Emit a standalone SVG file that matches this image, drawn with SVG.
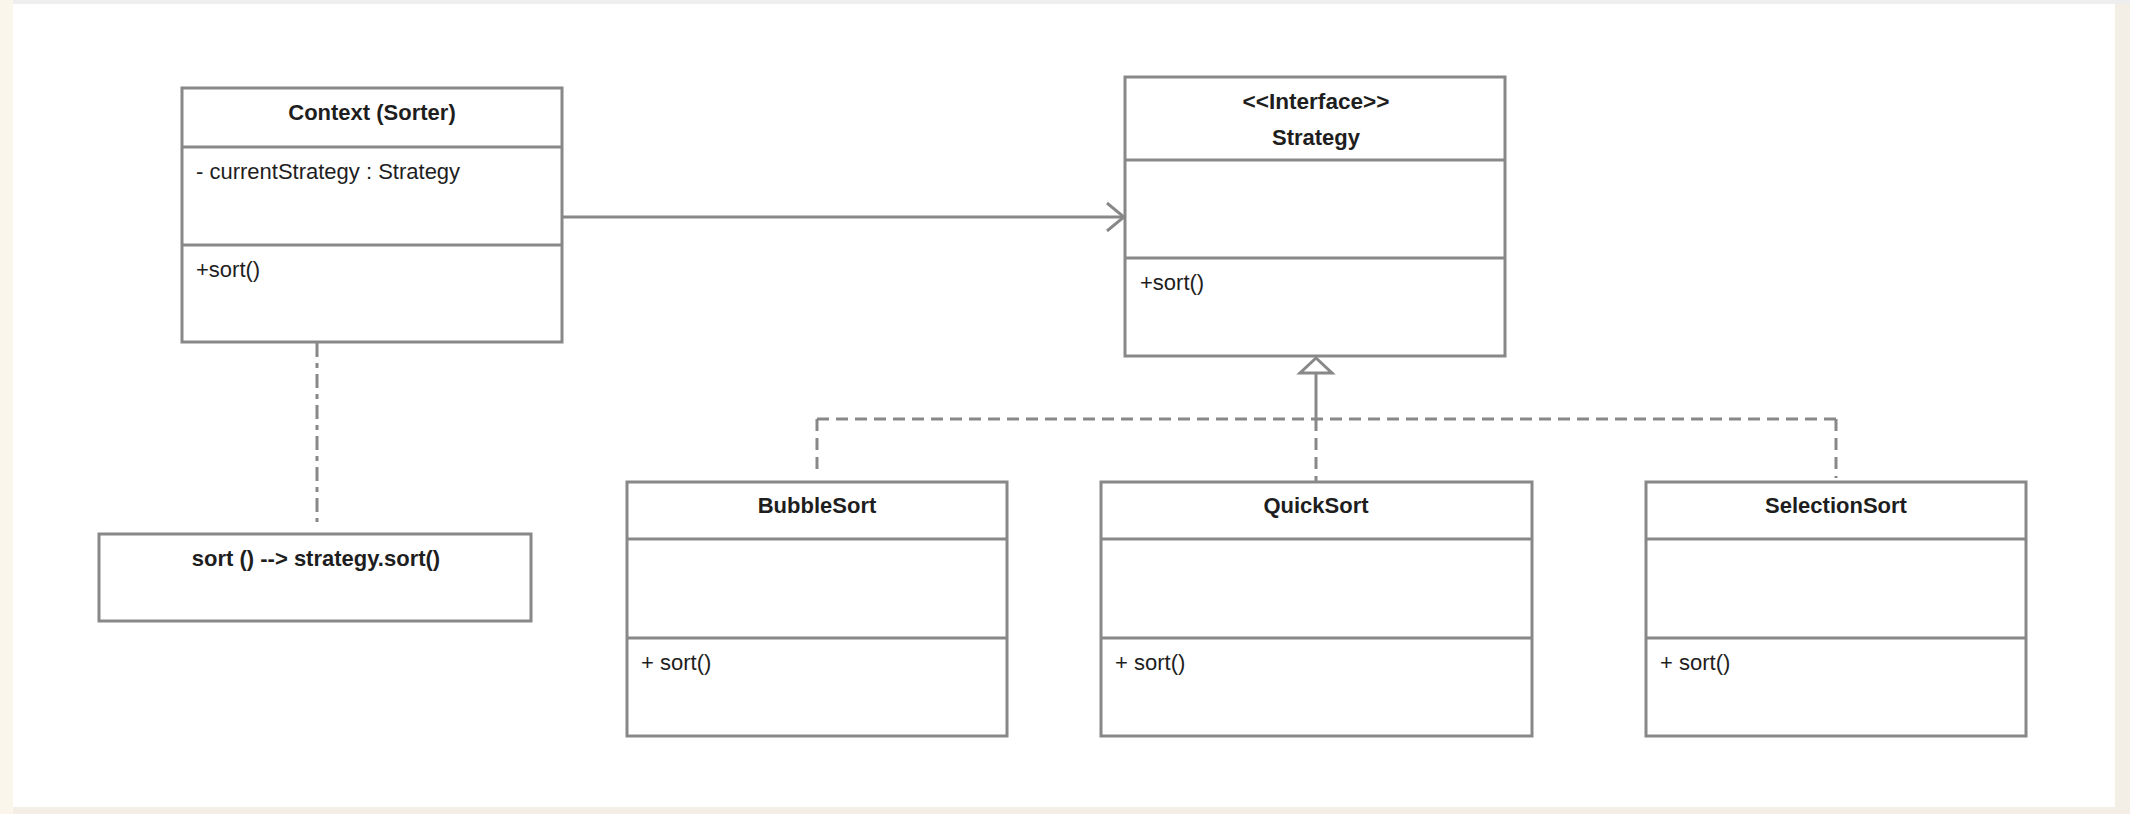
<svg xmlns="http://www.w3.org/2000/svg" width="2130" height="814" viewBox="0 0 2130 814">
  <defs>
    <style>
      .box { fill: #ffffff; stroke: #888888; stroke-width: 3; }
      .sep { stroke: #888888; stroke-width: 3; fill: none; }
      .conn { stroke: #888888; stroke-width: 3; fill: none; }
      .dash { stroke-dasharray: 12 7; }
      .dashdot { stroke-dasharray: 14 6 5 6; }
      .title { font-family: "Liberation Sans", Arial, sans-serif; font-size: 22px; font-weight: bold; fill: #1e1e1e; text-anchor: middle; }
      .item { font-family: "Liberation Sans", Arial, sans-serif; font-size: 22px; fill: #1e1e1e; }
    </style>
    <marker id="open-arrow" viewBox="0 0 20 30" refX="19" refY="15" markerWidth="20" markerHeight="30" markerUnits="userSpaceOnUse" orient="auto">
      <path d="M2 1 L19 15 L2 29" fill="none" stroke="#888888" stroke-width="3"/>
    </marker>
  </defs>

  <!-- page backdrop and canvas -->
  <rect x="0" y="0" width="2130" height="814" fill="#f3efe6"/>
  <rect x="0" y="0" width="13" height="814" fill="#faf6ec"/>
  <rect x="13" y="0" width="2117" height="4" fill="#eeeeee"/>
  <rect x="13" y="4" width="2102" height="803" fill="#ffffff"/>

  <!-- connectors -->
  <g id="connectors">
    <!-- association: Context -> Strategy -->
    <line class="conn" x1="562" y1="217" x2="1124" y2="217" marker-end="url(#open-arrow)"/>
    <!-- note attachment -->
    <line class="conn dashdot" x1="317" y1="343" x2="317" y2="522"/>
    <!-- realization tree -->
    <line class="conn" x1="1316" y1="373" x2="1316" y2="419"/>
    <line class="conn dash" x1="817" y1="419" x2="1836" y2="419"/>
    <line class="conn dash" x1="817" y1="419" x2="817" y2="472"/>
    <line class="conn dash" x1="1316" y1="419" x2="1316" y2="481"/>
    <line class="conn dash" x1="1836" y1="419" x2="1836" y2="478"/>
    <polygon points="1316,358 1300,373 1332,373" fill="#ffffff" stroke="#888888" stroke-width="3" stroke-linejoin="miter"/>
  </g>

  <!-- Context -->
  <g id="context">
    <rect class="box" x="182" y="88" width="380" height="254"/>
    <line class="sep" x1="182" y1="147" x2="562" y2="147"/>
    <line class="sep" x1="182" y1="245" x2="562" y2="245"/>
    <text class="title" x="372" y="120">Context (Sorter)</text>
    <text class="item" x="196" y="179">- currentStrategy : Strategy</text>
    <text class="item" x="196" y="277">+sort()</text>
  </g>

  <!-- Strategy interface -->
  <g id="strategy">
    <rect class="box" x="1125" y="77" width="380" height="279"/>
    <line class="sep" x1="1125" y1="160" x2="1505" y2="160"/>
    <line class="sep" x1="1125" y1="258" x2="1505" y2="258"/>
    <text class="title" x="1316" y="109" textLength="147" lengthAdjust="spacingAndGlyphs">&lt;&lt;Interface&gt;&gt;</text>
    <text class="title" x="1316" y="145">Strategy</text>
    <text class="item" x="1140" y="290">+sort()</text>
  </g>

  <!-- Note -->
  <g id="note">
    <rect class="box" x="99" y="534" width="432" height="87"/>
    <text class="title" x="316" y="566">sort () --&gt; strategy.sort()</text>
  </g>

  <!-- BubbleSort -->
  <g id="bubblesort">
    <rect class="box" x="627" y="482" width="380" height="254"/>
    <line class="sep" x1="627" y1="539" x2="1007" y2="539"/>
    <line class="sep" x1="627" y1="638" x2="1007" y2="638"/>
    <text class="title" x="817" y="513">BubbleSort</text>
    <text class="item" x="641" y="670">+ sort()</text>
  </g>

  <!-- QuickSort -->
  <g id="quicksort">
    <rect class="box" x="1101" y="482" width="431" height="254"/>
    <line class="sep" x1="1101" y1="539" x2="1532" y2="539"/>
    <line class="sep" x1="1101" y1="638" x2="1532" y2="638"/>
    <text class="title" x="1316" y="513">QuickSort</text>
    <text class="item" x="1115" y="670">+ sort()</text>
  </g>

  <!-- SelectionSort -->
  <g id="selectionsort">
    <rect class="box" x="1646" y="482" width="380" height="254"/>
    <line class="sep" x1="1646" y1="539" x2="2026" y2="539"/>
    <line class="sep" x1="1646" y1="638" x2="2026" y2="638"/>
    <text class="title" x="1836" y="513">SelectionSort</text>
    <text class="item" x="1660" y="670">+ sort()</text>
  </g>
</svg>
